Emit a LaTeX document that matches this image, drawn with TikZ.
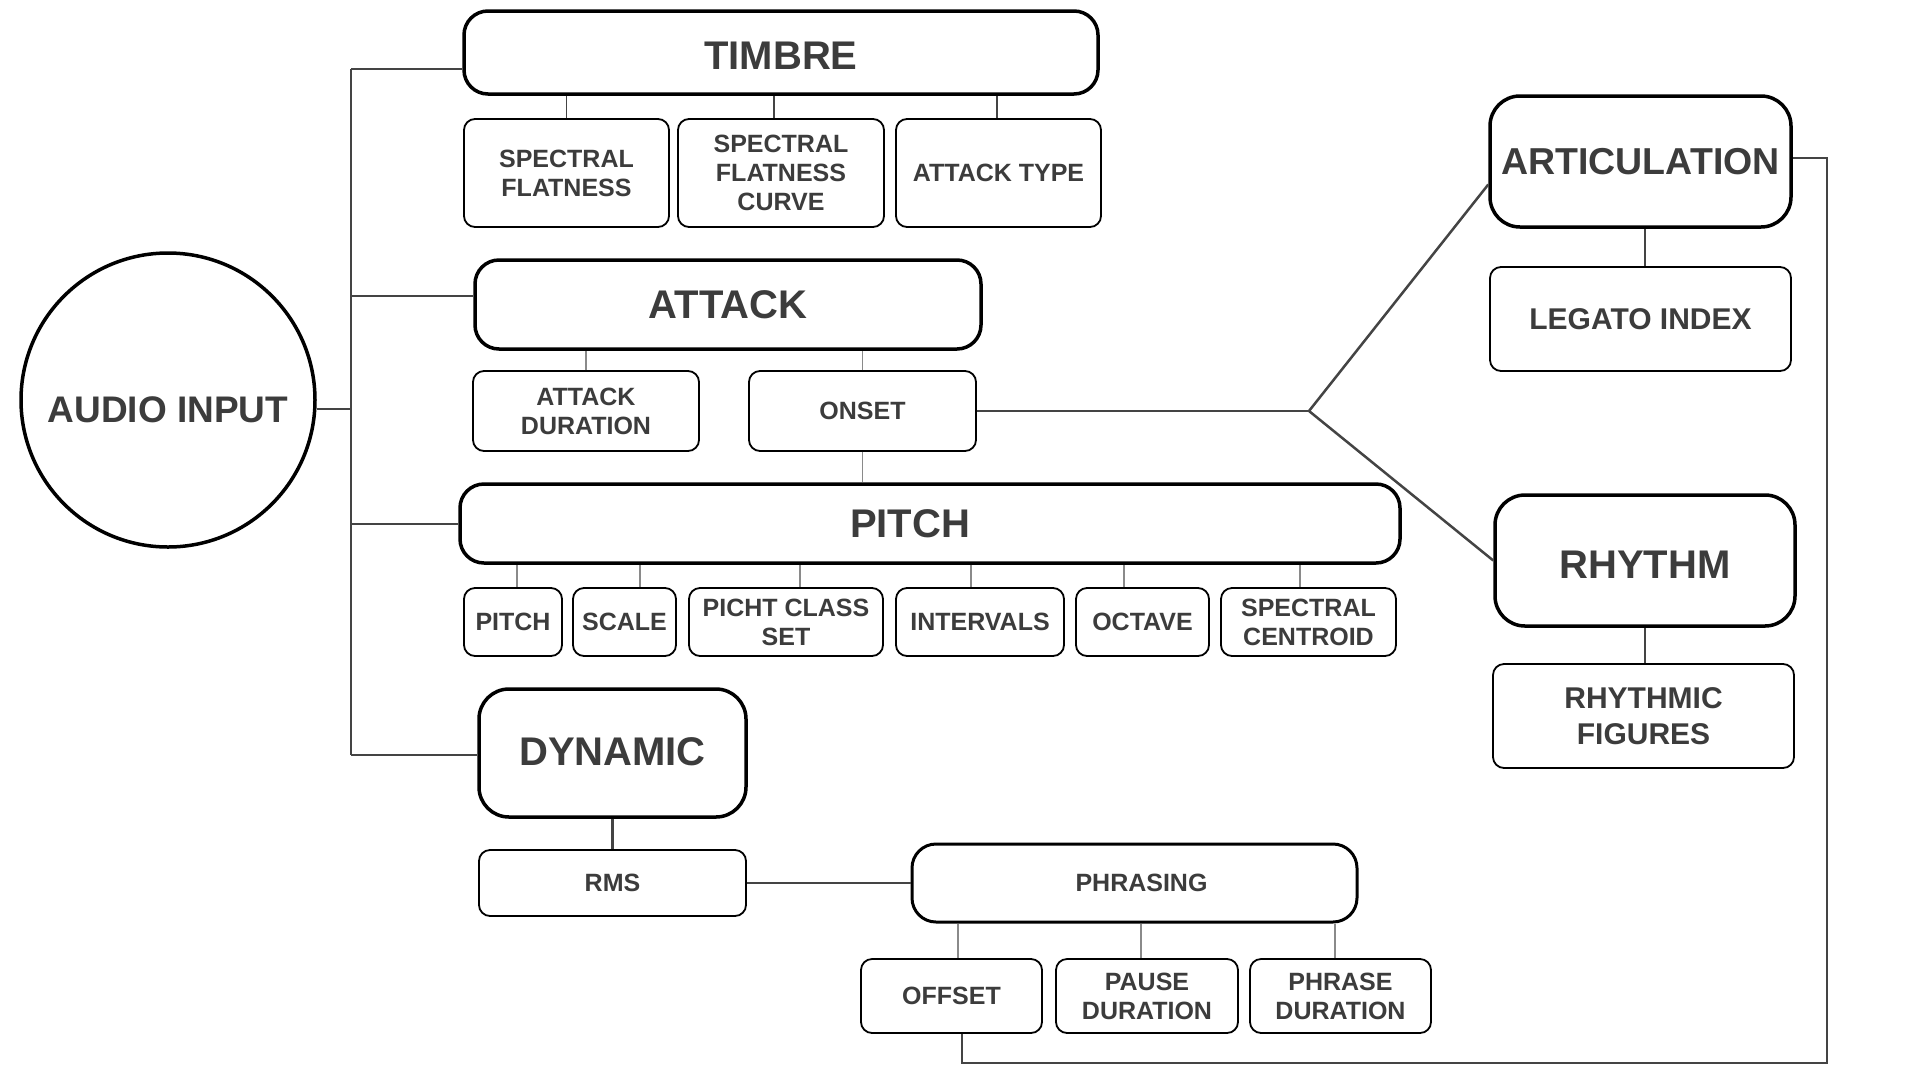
\documentclass[tikz,border=0pt]{standalone}
\usepackage{fontspec}
\setmainfont{Liberation Sans}
\definecolor{txt}{HTML}{3C3C3C}
\definecolor{wirec}{HTML}{444444}
\definecolor{thinc}{HTML}{8A8A8A}
\newcommand{\bigf}{\fontsize{40}{46}\selectfont\bfseries}
\newcommand{\smallf}{\fontsize{25}{29}\selectfont\bfseries}
\newcommand{\medf}{\fontsize{30}{36}\selectfont\bfseries}
\begin{document}
\begin{tikzpicture}[x=1pt,y=-1pt,
  mainbox/.style={draw=black, line width=3.5pt, rounded corners=24pt, text=txt, font=\bigf, inner sep=0pt, align=center},
  subbox/.style={draw=black, line width=1.8pt, rounded corners=11pt, text=txt, font=\smallf, inner sep=0pt, align=center},
  sz/.style 2 args={minimum width=#1, minimum height=#2},
  wire/.style={draw=wirec, line width=2.5pt},
  thinw/.style={draw=thinc, line width=1.3pt},
  midw/.style={draw=wirec, line width=1.8pt}]
\useasboundingbox (0,0) rectangle (1920,1080);
\fill[white] (0,0) rectangle (1920,1080);

% root
\node[draw=black, line width=3.5pt, circle, minimum size=294, inner sep=0pt, text=txt, font=\fontsize{37}{42}\selectfont\bfseries, text height=44.5pt, text depth=0pt] (audio) at (168,400) {AUDIO INPUT};

% timbre
\node[mainbox, sz={634}{83}, text height=34.6pt, text depth=0pt] (timbre) at (781,52.5) {TIMBRE};
\node[subbox, sz={205}{108}] (sf) at (566.5,173) {SPECTRAL\\FLATNESS};
\node[subbox, sz={206}{108}] (sfc) at (781,173) {SPECTRAL\\FLATNESS\\CURVE};
\node[subbox, sz={205}{108}] (atype) at (998.5,173) {ATTACK TYPE};

% attack
\node[mainbox, sz={506}{89}] (attack) at (728,304.5) {ATTACK};
\node[subbox, sz={226}{80}] (adur) at (586,411) {ATTACK\\DURATION};
\node[subbox, sz={227}{80}] (onset) at (862.5,411) {ONSET};

% pitch
\node[mainbox, sz={940}{79}] (pitch) at (930,523.5) {\hspace*{-40pt}PITCH};
\node[subbox, sz={98}{68}] (p1) at (513,622) {PITCH};
\node[subbox, sz={103}{68}] (p2) at (624.5,622) {SCALE};
\node[subbox, sz={194}{68}] (p3) at (786,622) {PICHT CLASS\\SET};
\node[subbox, sz={168}{68}] (p4) at (980,622) {INTERVALS};
\node[subbox, sz={133}{68}] (p5) at (1142.5,622) {OCTAVE};
\node[subbox, sz={175}{68}] (p6) at (1308.5,622) {SPECTRAL\\CENTROID};

% dynamic
\node[mainbox, rounded corners=30pt, sz={267}{128}, text height=28.6pt, text depth=4pt] (dyn) at (612.5,753) {DYNAMIC};
\node[subbox, sz={267}{66}] (rms) at (612.5,883) {RMS};

% phrasing
\node[subbox, line width=3pt, rounded corners=24pt, sz={445}{78}] (phr) at (1134.5,883) {\hspace*{14pt}PHRASING};
\node[subbox, sz={181}{74}] (off) at (951.5,996) {OFFSET};
\node[subbox, sz={182}{74}] (pause) at (1147,996) {PAUSE\\DURATION};
\node[subbox, sz={181}{74}] (phdur) at (1340.5,996) {PHRASE\\DURATION};

% right side
\node[mainbox, rounded corners=30pt, font=\fontsize{37.5}{43}\selectfont\bfseries, sz={301}{131}] (art) at (1640.5,161.5) {ARTICULATION};
\node[subbox, font=\medf, sz={301}{104}] (leg) at (1640.5,319) {LEGATO INDEX};
\node[mainbox, rounded corners=30pt, sz={300}{131}, text height=36.6pt, text depth=0pt] (rhy) at (1645,560.5) {RHYTHM};
\node[subbox, font=\medf, sz={301}{104}] (rf) at (1643.5,716) {RHYTHMIC\\FIGURES};

% trunk
\coordinate (tTop) at (351,69);
\coordinate (tAtt) at (351,296);
\coordinate (tRoot) at (351,409);
\coordinate (tPit) at (351,524);
\coordinate (tBot) at (351,755);
\draw[wire] (tTop) -- (tBot);
\draw[wire] (tTop) -- (tTop -| timbre.west);
\draw[wire] (tAtt) -- (tAtt -| attack.west);
\draw[wire] (tPit) -- (tPit -| pitch.west);
\draw[wire] (tBot) -- (tBot -| dyn.west);
\draw[wire] (tRoot) -- (tRoot -| audio.east);

% timbre children
\draw[midw] (sf.north) -- (sf.north |- timbre.south);
\draw[midw] ([xshift=-7]sfc.north) -- ([xshift=-7]sfc.north |- timbre.south);
\draw[midw] ([xshift=-1.5]atype.north) -- ([xshift=-1.5]atype.north |- timbre.south);

% attack children
\draw[thinw] (adur.north) -- (adur.north |- attack.south);
\draw[thinw] (onset.north) -- (onset.north |- attack.south);
\draw[thinw] (onset.south) -- (onset.south |- pitch.north);

% onset to articulation / rhythm
\coordinate (J) at (1309,411);
\draw[wire] (onset.east) -- (J);
\draw[wire] (J) -- ([yshift=-23]art.west);
\draw[wire] (J) -- (rhy.west);

% pitch children
\draw[thinw] ([xshift=4]p1.north) -- ([xshift=4]p1.north |- pitch.south);
\draw[thinw] ([xshift=15.5]p2.north) -- ([xshift=15.5]p2.north |- pitch.south);
\draw[thinw] ([xshift=14]p3.north) -- ([xshift=14]p3.north |- pitch.south);
\draw[thinw] ([xshift=-9]p4.north) -- ([xshift=-9]p4.north |- pitch.south);
\draw[thinw] ([xshift=-18.5]p5.north) -- ([xshift=-18.5]p5.north |- pitch.south);
\draw[thinw] ([xshift=-8.5]p6.north) -- ([xshift=-8.5]p6.north |- pitch.south);

% dynamic
\draw[wire] (dyn.south) -- (rms.north);
\draw[wire] (rms.east) -- (phr.west);

% phrasing children
\draw[thinw] ([xshift=6.5]off.north) -- ([xshift=6.5]off.north |- phr.south);
\draw[thinw] ([xshift=-6]pause.north) -- ([xshift=-6]pause.north |- phr.south);
\draw[thinw] ([xshift=-5.5]phdur.north) -- ([xshift=-5.5]phdur.north |- phr.south);

% right children
\draw[wire] ([xshift=4.5]art.south) -- ([xshift=4.5]art.south |- leg.north);
\draw[wire] (rhy.south) -- (rhy.south |- rf.north);

% return loop
\coordinate (lbb) at (962,1063);
\coordinate (rb) at (1827,1063);
\coordinate (rt) at (1827,158);
\draw[wire] ([xshift=10.5]off.south) -- (lbb) -- (rb) -- (rt) -- (rt -| art.east);
\end{tikzpicture}
\end{document}
